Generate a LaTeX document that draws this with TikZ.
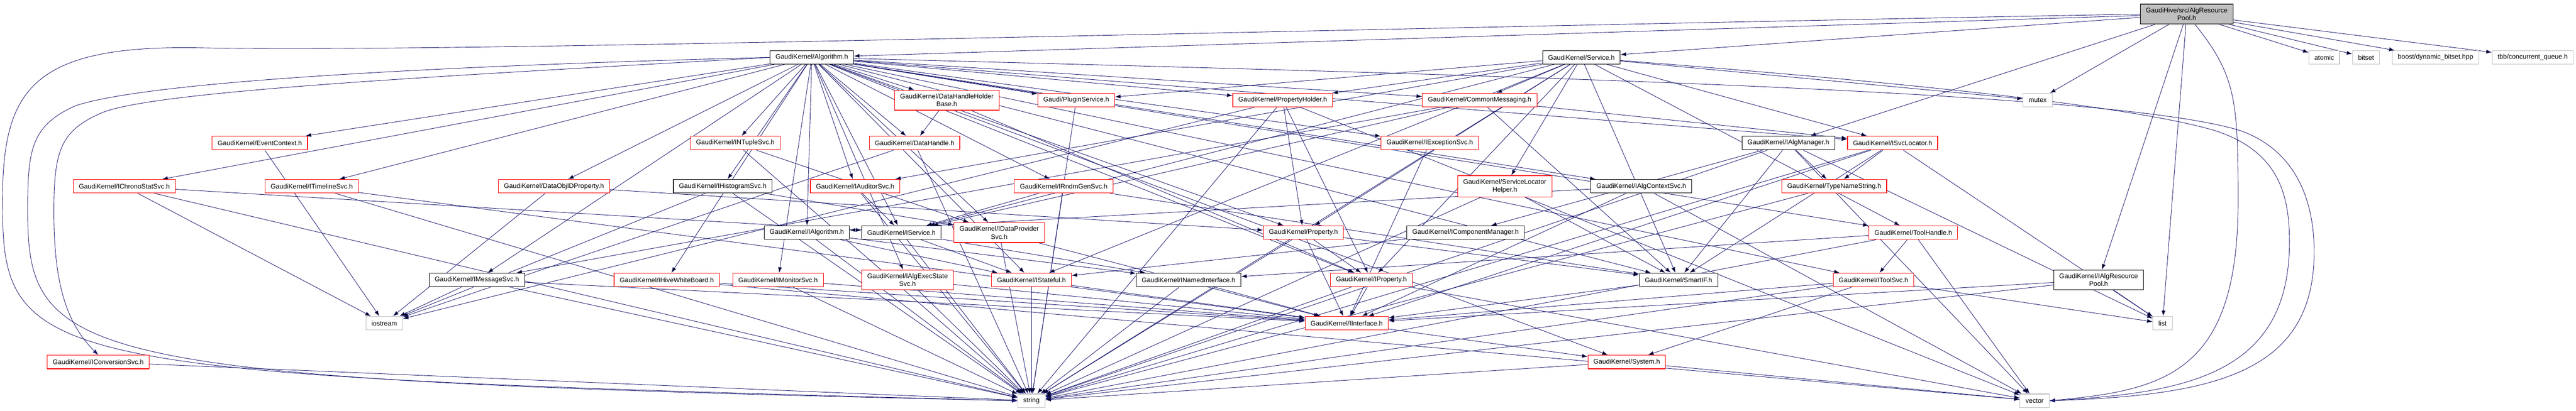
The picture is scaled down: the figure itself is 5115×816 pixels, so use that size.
\documentclass[tikz,border=0pt]{standalone}
\usepackage{fontspec}
\setmainfont{Liberation Sans}
\usetikzlibrary{arrows.meta,backgrounds}
\definecolor{edgeblue}{HTML}{191970}
\definecolor{sysgray}{HTML}{BFBFBF}
\begin{document}
\begin{tikzpicture}[x=1pt,y=-1pt,
 file/.style={draw=black,fill=white,line width=1.2pt,inner xsep=11pt,inner ysep=7pt,minimum height=27pt,align=center,font=\fontsize{13.2}{16}\selectfont},
 trunc/.style={file,draw=red},
 sys/.style={file,draw=sysgray},
 dep/.style={draw=edgeblue,line width=0.9pt,-{Latex[length=11pt,width=8pt]}}]
\useasboundingbox(0,0)rectangle(5115,816);
%root
\node[file,fill=sysgray](root)at(4342,28){GaudiHive/src/AlgResource\\Pool.h};
%rank 1
\node[file](alg)at(1612,114){GaudiKernel/Algorithm.h};
\node[file](svc)at(3140,114){GaudiKernel/Service.h};
\node[sys](atomic)at(4615,114){atomic};
\node[sys](bitset)at(4698,114){bitset};
\node[sys](boost)at(4836,114){boost/dynamic\_bitset.hpp};
\node[sys](tbb)at(5029,114){tbb/concurrent\_queue.h};
%rank 2
\node[trunc](dhhb)at(1880,199){GaudiKernel/DataHandleHolder\\Base.h};
\node[trunc](plugin)at(2137,199){Gaudi/PluginService.h};
\node[trunc](propholder)at(2547,199){GaudiKernel/PropertyHolder.h};
\node[trunc](cmsg)at(2938,199){GaudiKernel/CommonMessaging.h};
\node[sys](mutex)at(4046,199){mutex};
%rank 3
\node[trunc](evctx)at(516,284){GaudiKernel/EventContext.h};
\node[trunc](intuple)at(1460,284){GaudiKernel/INTupleSvc.h};
\node[trunc](dh)at(1816,284){GaudiKernel/DataHandle.h};
\node[trunc](iexc)at(2839,284){GaudiKernel/IExceptionSvc.h};
\node[file](ialgmgr)at(3551,284){GaudiKernel/IAlgManager.h};
\node[trunc](isvcloc)at(3758,284){GaudiKernel/ISvcLocator.h};
%rank 4
\node[trunc](ichrono)at(247,370){GaudiKernel/IChronoStatSvc.h};
\node[trunc](itimeline)at(619,370){GaudiKernel/ITimelineSvc.h};
\node[trunc](doidprop)at(1100,370){GaudiKernel/DataObjIDProperty.h};
\node[file](ihisto)at(1435,370){GaudiKernel/IHistogramSvc.h};
\node[trunc](iauditor)at(1698,370){GaudiKernel/IAuditorSvc.h};
\node[trunc](irndm)at(2112,370){GaudiKernel/IRndmGenSvc.h};
\node[trunc](slhelper)at(2988,370){GaudiKernel/ServiceLocator\\Helper.h};
\node[file](ialgctx)at(3259,370){GaudiKernel/IAlgContextSvc.h};
\node[trunc](tns)at(3642,370){GaudiKernel/TypeNameString.h};
%rank 5
\node[file](ialg)at(1602,462){GaudiKernel/IAlgorithm.h};
\node[file](isvc)at(1790,462){GaudiKernel/IService.h};
\node[trunc](idp)at(1984,462){GaudiKernel/IDataProvider\\Svc.h};
\node[trunc](prop)at(2588,462){GaudiKernel/Property.h};
\node[file](icompmgr)at(2910,462){GaudiKernel/IComponentManager.h};
\node[trunc](toolh)at(3799,462){GaudiKernel/ToolHandle.h};
%rank 6
\node[file](imsg)at(947,556){GaudiKernel/IMessageSvc.h};
\node[trunc](ihive)at(1324,556){GaudiKernel/IHiveWhiteBoard.h};
\node[trunc](imon)at(1545,556){GaudiKernel/IMonitorSvc.h};
\node[trunc](iexec)at(1802,556){GaudiKernel/IAlgExecState\\Svc.h};
\node[trunc](istateful)at(2048,556){GaudiKernel/IStateful.h};
\node[file](inamed)at(2360,556){GaudiKernel/INamedInterface.h};
\node[trunc](iprop)at(2723,556){GaudiKernel/IProperty.h};
\node[file](smartif)at(3333,556){GaudiKernel/SmartIF.h};
\node[trunc](itoolsvc)at(3720,556){GaudiKernel/IToolSvc.h};
\node[file](iarp)at(4167,556){GaudiKernel/IAlgResource\\Pool.h};
%rank 7
\node[sys](iostream)at(763,642){iostream};
\node[trunc](iint)at(2674,642){GaudiKernel/IInterface.h};
\node[sys](list)at(4294,642){list};
%rank 8
\node[trunc](iconv)at(195,719){GaudiKernel/IConversionSvc.h};
\node[trunc](system)at(3230,719){GaudiKernel/System.h};
%rank 9
\node[sys](string)at(2048,796){string};
\node[sys](vector)at(4040,796){vector};
%edges
\begin{pgfonlayer}{background}
\path[dep](root)edge(alg)edge(svc)edge(atomic)edge(bitset)edge(boost)edge(tbb)edge(mutex)edge(ialgmgr)edge(iarp)edge(list);
\path[dep](alg)edge(ichrono)edge(evctx)edge(itimeline)edge(imsg)edge(doidprop)edge(intuple)edge(ihisto)edge(ihive)edge(imon)edge(ialg)
 edge(dhhb)edge(dh)edge(iauditor)edge(isvc)edge(iexec)edge(plugin)edge(irndm)edge(idp)edge(istateful)edge(propholder)edge(prop)
 edge(iprop)edge(cmsg)edge(iexc)edge(ialgctx)edge(smartif)edge(system)edge(isvcloc)edge(toolh)edge(itoolsvc);
\path[dep](svc)edge(cmsg)edge(iauditor)edge(iprop)edge(isvc)edge(istateful)edge(isvcloc)edge(prop)edge(propholder)edge(slhelper)edge(smartif)
 edge(toolh)edge(plugin)edge(mutex)edge(string);
\path[dep](dhhb)edge(dh)edge(iprop);
\path[dep](dh)edge(string)edge(iostream);
\path[dep](plugin)edge(string);
\path[dep](propholder)edge(prop)edge(iprop)edge(iostream)edge(string)edge(vector);
\path[dep](cmsg)edge(imsg)edge(isvc)edge(isvcloc)edge(smartif);
\path[dep](evctx)edge(iostream);
\path[dep](intuple)edge(idp)edge(string);
\path[dep](iexc)edge(iint);
\path[dep](ialgmgr)edge(icompmgr)edge(smartif)edge(tns)edge(list)edge(string)edge(vector);
\path[dep](isvcloc)edge(iint)edge(smartif)edge(tns)edge(list)edge(string);
\path[dep](ichrono)edge(isvc)edge(iostream)edge(string);
\path[dep](itimeline)edge(iint)edge(string);
\path[dep](doidprop)edge(prop)edge(iostream);
\path[dep](ihisto)edge(idp)edge(iostream)edge(string);
\path[dep](iauditor)edge(isvc)edge(string);
\path[dep](irndm)edge(isvc)edge(smartif)edge(string);
\path[dep](slhelper)edge(smartif)edge(string);
\path[dep](ialgctx)edge(iint)edge(ialg)edge(vector);
\path[dep](tns)edge(string);
\path[dep](ialg)edge(inamed)edge(istateful)edge(string);
\path[dep](isvc)edge(inamed)edge(istateful)edge(string);
\path[dep](idp)edge(iint)edge(string);
\path[dep](prop)edge(iprop)edge(iint)edge(smartif)edge(string);
\path[dep](icompmgr)edge(istateful);
\path[dep](toolh)edge(itoolsvc)edge(inamed)edge(string)edge(vector);
\path[dep](imsg)edge(iint)edge(iostream)edge(string);
\path[dep](ihive)edge(iint)edge(vector);
\path[dep](imon)edge(iint)edge(string);
\path[dep](iexec)edge(iint)edge(string);
\path[dep](istateful)edge(iint)edge(string);
\path[dep](inamed)edge(iint)edge(string);
\path[dep](iprop)edge(iint)edge(string)edge(vector);
\path[dep](smartif)edge(iint);
\path[dep](itoolsvc)edge(iint)edge(system)edge(list)edge(string);
\path[dep](iarp)edge(iint)edge(list)edge(string);
\path[dep](iint)edge(system);
\path[dep](iconv)edge(string);
\path[dep](system)edge(string)edge(vector);
%loops round the left side
\draw[dep](root.west)..controls(2500,60)and(900,105)..(400,95)..controls(60,88)and(5,180)..(5,400)..controls(5,730)and(60,745)..(string.west);
\draw[dep](alg.west)..controls(900,130)and(300,160)..(150,210)..controls(60,250)and(55,300)..(55,420)..controls(55,720)and(150,755)..(string.west);
\draw[dep](alg.west)..controls(900,150)and(300,180)..(200,225)..controls(120,260)and(107,300)..(107,420)..controls(107,560)and(130,640)..(iconv.north);
%loops round the right side
\draw[dep](root)..controls(4440,150)and(4444,200)..(4444,400)..controls(4444,740)and(4300,775)..(vector.east);
\draw[dep](svc)..controls(3600,150)and(4200,200)..(4400,260)..controls(4520,300)and(4546,380)..(4546,480)..controls(4546,740)and(4350,780)..(vector.east);
\draw[dep](alg)..controls(3000,150)and(4200,180)..(4450,260)..controls(4560,300)and(4595,400)..(4595,500)..controls(4595,740)and(4400,785)..(vector.east);
\end{pgfonlayer}
\end{tikzpicture}
\end{document}
